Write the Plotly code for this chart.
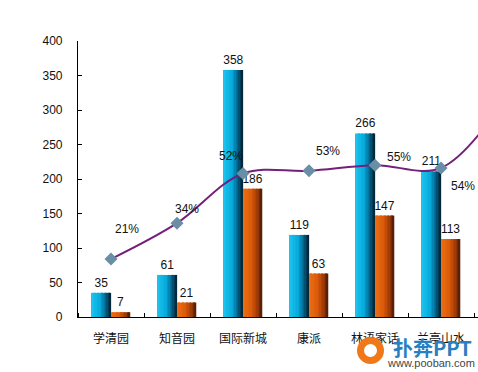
import plotly.graph_objects as go

categories = ["学清园", "知音园", "国际新城", "康派", "林语家话", "兰亭山水"]
series_a = [35, 61, 358, 119, 266, 211]
series_b = [7, 21, 186, 63, 147, 113]
pct = [0.21, 0.34, 0.52, 0.53, 0.55, 0.54]
pct_next = 0.80  # partly visible continuation of the line beyond the right edge
pct_labels = ["21%", "34%", "52%", "53%", "55%", "54%"]

W, H = 478, 372
ML, MR, MT, MB = 78, 0, 41, 55
plot_w = W - ML - MR
plot_h = H - MT - MB

x = list(range(len(categories)))
bar_w = 0.29
N = 14

def lerp(stops, t):
    for (t0, c0), (t1, c1) in zip(stops, stops[1:]):
        if t <= t1:
            f = (t - t0) / (t1 - t0) if t1 > t0 else 0
            return "rgb(%d,%d,%d)" % tuple(round(a + (b - a) * f) for a, b in zip(c0, c1))
    return "rgb(%d,%d,%d)" % stops[-1][1]

blue_stops = [(0, (30, 196, 238)), (0.45, (5, 170, 220)), (0.75, (0, 100, 140)), (1, (0, 30, 45))]
orange_stops = [(0, (240, 112, 20)), (0.5, (215, 88, 10)), (0.8, (150, 55, 5)), (1, (80, 25, 5))]

fig = go.Figure()

for vals, start, stops in [(series_a, -bar_w, blue_stops), (series_b, 0.0, orange_stops)]:
    sw = bar_w / N
    for i in range(N):
        fig.add_trace(go.Bar(
            x=x, y=vals, width=sw * 1.08, offset=start + i * sw,
            marker=dict(color=lerp(stops, (i + 0.5) / N), line=dict(width=0)),
            showlegend=False, hoverinfo="skip"))
    fig.add_trace(go.Bar(
        x=x, y=vals, width=bar_w, offset=start,
        marker=dict(color="rgba(0,0,0,0)", line=dict(width=0)),
        text=[str(v) for v in vals], textposition="outside", cliponaxis=False,
        constraintext="none",
        textfont=dict(family="Liberation Sans, Arial", size=12, color="#111"),
        showlegend=False, hoverinfo="skip"))

fig.add_trace(go.Scatter(
    x=x + [len(categories)], y=pct + [pct_next], yaxis="y2",
    mode="lines", line=dict(color="#74207a", width=2, shape="spline", smoothing=1),
    showlegend=False, hoverinfo="skip"))
fig.add_trace(go.Scatter(
    x=x, y=pct, yaxis="y2", mode="markers",
    marker=dict(symbol="diamond", size=10, color="#6a8ea6", line=dict(width=0)),
    showlegend=False, hoverinfo="skip"))

offsets = [(16, 30), (10, 14), (-12, 17), (19, 20), (24, 8), (22, -18)]
for xi, p, lab, (dx, dy) in zip(x, pct, pct_labels, offsets):
    fig.add_annotation(x=xi, y=p, xref="x", yref="y2", text=lab, showarrow=False,
                       xshift=dx, yshift=dy,
                       font=dict(family="Liberation Sans, Arial", size=12, color="#111"))

# watermark
def px(xp):
    return (xp - ML) / plot_w
def py(yp):
    return (H - MB - yp) / plot_h

fig.add_shape(type="circle", xref="paper", yref="paper",
              x0=px(357), x1=px(384), y0=py(364), y1=py(337),
              fillcolor="#f07818", line=dict(width=0), layer="above")
fig.add_shape(type="circle", xref="paper", yref="paper",
              x0=px(364), x1=px(377), y0=py(357), y1=py(344),
              fillcolor="white", line=dict(width=0), layer="above")
fig.add_annotation(x=px(432), y=py(347), xref="paper", yref="paper", text="<b>扑奔PPT</b>",
                   xanchor="center", yanchor="middle",
                   showarrow=False, font=dict(family="Noto Sans CJK SC", size=20, color="#2a7fc0"))
fig.add_annotation(x=px(431), y=py(363), xref="paper", yref="paper", text="www.pooban.com",
                   xanchor="center", yanchor="middle",
                   showarrow=False, font=dict(family="Liberation Sans, Arial", size=11, color="#444"))

fig.update_layout(
    width=W, height=H, margin=dict(l=ML, r=MR, t=MT, b=MB),
    paper_bgcolor="white", plot_bgcolor="white", barmode="overlay",
    xaxis=dict(range=[-0.5, 5.56], tickvals=x, ticktext=categories, ticks="",
               showline=True, linecolor="black", linewidth=1.2, showgrid=False, zeroline=False,
               ticklabelstandoff=10,
               tickfont=dict(family="Noto Sans CJK SC", size=12, color="#111"),
               minor=dict(tickvals=[i - 0.5 for i in range(len(categories) + 1)],
                          ticks="inside", ticklen=4, tickcolor="black", tickwidth=1)),
    yaxis=dict(range=[0, 400], dtick=50, ticks="inside", ticklen=4, tickcolor="black",
               showline=True, linecolor="black", linewidth=1.2, showgrid=False, zeroline=False,
               ticklabelstandoff=12,
               tickfont=dict(family="Liberation Sans, Arial", size=12, color="#111")),
    yaxis2=dict(range=[0, 1], overlaying="y", visible=False),
)

fig.write_html("out.html", config={"displayModeBar": False},
               post_script="document.body.style.margin='0';document.body.style.padding='0';")
